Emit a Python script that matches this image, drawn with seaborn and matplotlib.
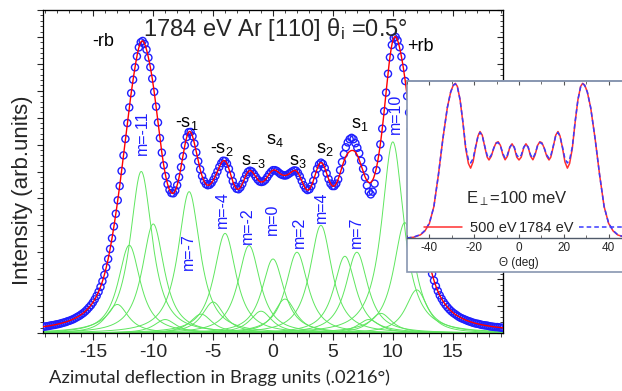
import numpy as np
import pandas as pd
import seaborn as sns
import matplotlib
matplotlib.use("Agg")
import matplotlib.pyplot as plt
from matplotlib.patches import Rectangle
from matplotlib.lines import Line2D
from matplotlib.ticker import MultipleLocator, NullFormatter

sns.set_style("white")
plt.rcParams["font.family"] = ["Liberation Sans", "DejaVu Sans"]
plt.rcParams["mathtext.fontset"] = "custom"
plt.rcParams["mathtext.rm"] = "Liberation Sans"
plt.rcParams["mathtext.it"] = "Liberation Sans:italic"
plt.rcParams["mathtext.sf"] = "Liberation Sans"
plt.rcParams["axes.unicode_minus"] = False

# ---- main panel: fitted diffraction orders (position m, peak height) ----
orders = [-13, -12, -11, -10, -9, -7, -6, -5, -4, -2, -1, 0, 1, 2, 4, 6, 7, 8, 9, 10, 11, 12]
heights = [1.06, 3.26, 6.0, 4.05, 0.5, 5.25, 0.7, 1.15, 3.7, 3.25, 0.81, 2.75, 1.26, 3.0,
           4.0, 2.85, 3.0, 0.5, 0.73, 7.1, 4.1, 1.6]
hwhm = 1.24
shape_exp = 1.2

# ---- measured profile (blue circles), sampled every 0.16 Bragg units from -19.2 ----
data_start, data_step = -19.2, 0.16
intensity = [
    0.23, 0.24, 0.25, 0.26, 0.28, 0.29, 0.30, 0.32, 0.33, 0.35,
    0.37, 0.39, 0.41, 0.44, 0.46, 0.49, 0.52, 0.56, 0.60, 0.64,
    0.69, 0.74, 0.80, 0.87, 0.95, 1.03, 1.13, 1.25, 1.38, 1.53,
    1.71, 1.92, 2.16, 2.44, 2.75, 3.12, 3.52, 3.96, 4.43, 4.93,
    5.46, 6.02, 6.60, 7.21, 7.80, 8.38, 8.91, 9.41, 9.87, 10.28,
    10.61, 10.80, 10.85, 10.74, 10.53, 10.23, 9.88, 9.45, 8.96, 8.41,
    7.82, 7.24, 6.70, 6.23, 5.83, 5.53, 5.32, 5.20, 5.19, 5.29,
    5.49, 5.79, 6.16, 6.57, 6.97, 7.28, 7.46, 7.47, 7.31, 7.04,
    6.71, 6.38, 6.08, 5.83, 5.65, 5.53, 5.49, 5.51, 5.58, 5.70,
    5.84, 6.00, 6.17, 6.31, 6.40, 6.39, 6.29, 6.10, 5.87, 5.64,
    5.46, 5.36, 5.34, 5.41, 5.54, 5.71, 5.87, 5.99, 6.03, 6.00,
    5.91, 5.80, 5.70, 5.63, 5.61, 5.63, 5.69, 5.79, 5.90, 5.99,
    6.05, 6.05, 6.02, 5.96, 5.90, 5.87, 5.85, 5.86, 5.90, 5.95,
    6.00, 6.04, 6.03, 5.95, 5.82, 5.65, 5.49, 5.37, 5.31, 5.34,
    5.46, 5.65, 5.88, 6.10, 6.26, 6.33, 6.28, 6.13, 5.93, 5.72,
    5.55, 5.46, 5.46, 5.55, 5.71, 6.05, 6.35, 6.65, 6.90, 7.08,
    7.20, 7.25, 7.20, 7.05, 6.88, 6.68, 6.40, 6.10, 5.78, 5.48,
    5.25, 5.15, 5.25, 5.55, 6.05, 6.50, 7.01, 7.59, 8.24, 8.93,
    9.63, 10.24, 10.70, 10.96, 11.00, 10.87, 10.62, 10.27, 9.85, 9.36,
    8.80, 8.19, 7.57, 6.95, 6.34, 5.76, 5.19, 4.64, 4.12, 3.64,
    3.20, 2.82, 2.48, 2.20, 1.95, 1.74, 1.56, 1.40, 1.27, 1.15,
    1.05, 0.96, 0.88, 0.81, 0.75, 0.70, 0.65, 0.60, 0.56, 0.53,
    0.50, 0.47, 0.44, 0.42, 0.39, 0.37, 0.35, 0.34, 0.32, 0.30,
    0.29, 0.28, 0.27, 0.25, 0.24, 0.23, 0.22, 0.22, 0.21, 0.20,
    0.19]

# ---- inset: simulated profiles ----
theta = [-50, -47, -44, -42, -40, -38, -36, -34, -32, -30.5, -29.3, -28.4, -27.5, -26.3, -25,
         -23.8, -22.6, -21.6, -20.5, -19.4, -18.3, -17.4, -16.4, -15.2, -14.2, -13.4, -12.4,
         -11.2, -10.2, -9.3, -8.3, -7.2, -6.2, -5.2, -4.1, -3.1, -2.1, -1.0, 0, 1.0, 2.1, 3.1,
         4.1, 5.2, 6.2, 7.2, 8.3, 9.3, 10.2, 11.2, 12.4, 13.4, 14.2, 15.2, 16.4, 17.4, 18.3,
         19.4, 20.5, 21.6, 22.6, 23.8, 25, 26.3, 27.5, 28.4, 29.3, 30.5, 32, 34, 36, 38, 40,
         42, 44, 47, 50]
sim_500 = [0.0, 0.005, 0.02, 0.045, 0.093, 0.2, 0.4, 0.63, 0.83, 0.93, 0.975, 0.985, 0.965,
           0.88, 0.73, 0.57, 0.475, 0.445, 0.485, 0.575, 0.65, 0.678, 0.655, 0.575, 0.515,
           0.497, 0.52, 0.575, 0.607, 0.613, 0.59, 0.53, 0.498, 0.52, 0.578, 0.6, 0.575, 0.515,
           0.497,
           0.515, 0.575, 0.6, 0.578, 0.52, 0.498, 0.53, 0.59, 0.613, 0.607, 0.575, 0.52, 0.497,
           0.515, 0.575, 0.655, 0.678, 0.65, 0.575, 0.485, 0.445, 0.475, 0.57, 0.73, 0.88,
           0.965, 0.985, 0.975, 0.93, 0.83, 0.63, 0.4, 0.2, 0.093, 0.045, 0.02, 0.005, 0.0]
sim_1784 = [0.0, 0.006, 0.022, 0.048, 0.095, 0.2, 0.4, 0.63, 0.83, 0.93, 0.972, 0.982, 0.962,
            0.88, 0.735, 0.58, 0.5, 0.478, 0.505, 0.58, 0.648, 0.672, 0.652, 0.58, 0.525,
            0.508, 0.528, 0.575, 0.603, 0.608, 0.588, 0.538, 0.508, 0.528, 0.578, 0.598, 0.578,
            0.528, 0.512,
            0.528, 0.578, 0.598, 0.578, 0.528, 0.508, 0.538, 0.588, 0.608, 0.603, 0.575, 0.528,
            0.508, 0.525, 0.58, 0.652, 0.672, 0.648, 0.58, 0.505, 0.478, 0.5, 0.58, 0.735,
            0.88, 0.962, 0.982, 0.972, 0.93, 0.83, 0.63, 0.4, 0.2, 0.095, 0.048, 0.022, 0.006,
            0.0]


def profile(x, m, h):
    return h * (1.0 + ((x - m) / hwhm) ** 2) ** (-shape_exp)


xf = np.linspace(-19.2, 19.2, 1200)
fit = sum(profile(xf, m, h) for m, h in zip(orders, heights))
data_x = data_start + data_step * np.arange(len(intensity))

fig = plt.figure(figsize=(6.22, 3.91), dpi=100)
W, H = 622, 391
ax = fig.add_axes([43 / W, (H - 333) / H, 460 / W, 323 / H])

comp = pd.DataFrame({
    "x": np.tile(xf, len(orders)),
    "y": np.concatenate([profile(xf, m, h) for m, h in zip(orders, heights)]),
    "order": np.repeat(orders, len(xf)),
})
sns.lineplot(data=comp, x="x", y="y", units="order", estimator=None, color="#5fe65f",
             lw=0.7, ax=ax, legend=False)
sns.scatterplot(x=data_x, y=intensity, ax=ax, marker="o", s=26, facecolors="none",
                edgecolor="#1f1fff", linewidth=1.0, zorder=3)
sns.lineplot(x=xf, y=fit, color="red", lw=1.0, ax=ax, zorder=4)

ax.set_xlim(-19.2, 19.2)
ax.set_ylim(0, 12)
ax.xaxis.set_major_locator(MultipleLocator(5))
ax.xaxis.set_minor_locator(MultipleLocator(1))
ax.yaxis.set_major_locator(MultipleLocator(1))
ax.yaxis.set_minor_locator(MultipleLocator(0.2))
ax.yaxis.set_major_formatter(NullFormatter())
ax.tick_params(axis="x", which="major", direction="out", length=5, width=0.8, pad=3,
               labelsize=14, bottom=True)
ax.tick_params(axis="x", which="minor", direction="out", length=3, width=0.6, bottom=True)
ax.tick_params(axis="y", which="major", direction="out", length=4, width=0.8, left=True)
ax.tick_params(axis="y", which="minor", direction="out", length=2, width=0.6, left=True)
for s in ax.spines.values():
    s.set_color("black")
    s.set_linewidth(0.9)
secx = ax.secondary_xaxis("top")
secx.xaxis.set_major_locator(MultipleLocator(5))
secx.xaxis.set_minor_locator(MultipleLocator(1))
secx.tick_params(which="both", direction="in", labeltop=False)
secx.tick_params(which="major", length=4)
secx.tick_params(which="minor", length=2)
secy = ax.secondary_yaxis("right")
secy.yaxis.set_major_locator(MultipleLocator(1))
secy.yaxis.set_minor_locator(MultipleLocator(0.2))
secy.tick_params(which="both", direction="in", labelright=False)
secy.tick_params(which="major", length=4)
secy.tick_params(which="minor", length=2)

ax.set_xlabel("Azimutal deflection in Bragg units (.0216°)", fontsize=13.2,
              family=["Lato", "DejaVu Sans"])
ax.xaxis.set_label_coords(0.383, -0.112)
ax.set_ylabel("Intensity (arb.units)", fontsize=16)
ax.yaxis.set_label_coords(-0.021, 0.443)

ax.text(0.2, 11.26, "1784 eV Ar [110] θ$_\\mathregular{i}$ =0.5°", fontsize=17,
        ha="center", va="center")
black_labels = [(-14.2, 10.82, "-rb"), (12.3, 10.63, "+rb"),
                (-7.17, 7.8, "-s$_\\mathregular{1}$"), (-4.25, 6.8, "-s$_\\mathregular{2}$"),
                (-1.6, 6.36, "s$_\\mathregular{-3}$"), (0.17, 7.14, "s$_\\mathregular{4}$"),
                (2.1, 6.36, "s$_\\mathregular{3}$"), (4.33, 6.8, "s$_\\mathregular{2}$"),
                (7.25, 7.73, "s$_\\mathregular{1}$")]
for x, y, t in black_labels:
    ax.text(x, y, t, fontsize=13, ha="center", va="center", color="black")
m_labels = [(-10.9, 7.43, "m=-11"), (-7.08, 3.01, "m=-7"), (-4.25, 4.57, "m=-4"),
            (-2.17, 3.98, "m=-2"), (-0.08, 4.24, "m=0"), (2.17, 3.75, "m=2"),
            (4.08, 4.68, "m=4"), (7.0, 3.75, "m=7"), (10.25, 8.14, "m=10")]
for x, y, t in m_labels:
    ax.text(x, y, t, fontsize=11.5, ha="center", va="center", color="#1f1fff", rotation=90)

# ---- inset ----
frame = Rectangle((407 / W, (H - 272) / H), (660 - 407) / W, (272 - 81) / H,
                  transform=fig.transFigure, facecolor="white", edgecolor="#8796b0",
                  lw=1.2, zorder=5)
fig.add_artist(frame)
ins = fig.add_axes([407 / W, (H - 238) / H, (631 - 407) / W, (238 - 81) / H], zorder=6)
ins.patch.set_alpha(0)
sns.lineplot(x=theta, y=sim_500, color="#ff3030", lw=1.1, ax=ins, sort=False)
sns.lineplot(x=theta, y=sim_1784, color="#3a3aff", lw=1.1, ax=ins, sort=False,
             dashes=False, linestyle=(0, (3, 2)))
ins.set_xlim(-50, 50)
ins.set_ylim(0, 1.0)
ins.set_yticks([])
ins.xaxis.set_major_locator(MultipleLocator(20))
ins.xaxis.set_minor_locator(MultipleLocator(10))
ins.tick_params(axis="x", which="both", direction="in", top=True, bottom=True,
                labelsize=8.5, pad=3, color="#555555")
ins.tick_params(axis="x", which="major", length=3)
ins.tick_params(axis="x", which="minor", length=2)
ins.spines["left"].set_visible(False)
ins.spines["right"].set_visible(False)
ins.spines["top"].set_color("#8796b0")
ins.spines["top"].set_linewidth(1.2)
ins.spines["bottom"].set_color("#505a6a")
ins.spines["bottom"].set_linewidth(1.0)
ins.set_xlabel("Θ (deg)", fontsize=8.5, labelpad=2)
ins.text(0.49, 0.25, "E$_\\perp$=100 meV", transform=ins.transAxes, fontsize=12,
         ha="center", va="center")
h500 = Line2D([], [], color="#ff3030", lw=1.1)
h1784 = Line2D([], [], color="#3a3aff", lw=1.1, linestyle=(0, (3, 2)))
leg1 = ins.legend([h500], ["500 eV"], loc="center left", bbox_to_anchor=(0.075, 0.064),
                  frameon=False, fontsize=10.5, handlelength=2.6, handletextpad=0.55,
                  borderpad=0, borderaxespad=0)
ins.add_artist(leg1)
ins.legend([h1784], ["1784 eV"], loc="center left", bbox_to_anchor=(0.5, 0.064),
           frameon=False, fontsize=10.5, handlelength=3.5, handletextpad=0.35,
           borderpad=0, borderaxespad=0, markerfirst=False)

fig.savefig("out.png", dpi=100)
